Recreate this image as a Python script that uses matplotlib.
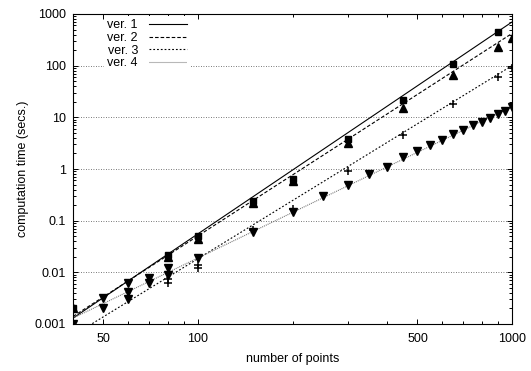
import numpy as np
import matplotlib
matplotlib.use("Agg")
import matplotlib.pyplot as plt
from matplotlib.ticker import LogLocator, FixedLocator, FuncFormatter, NullFormatter

plt.rcParams['font.family'] = ['Liberation Sans', 'DejaVu Sans']

# measured points
v1_x = [40, 80, 100, 150, 200, 300, 450, 650, 900]
v1_y = [0.002, 0.022, 0.05, 0.24, 0.65, 3.8, 22, 110, 450]

v2_x = [40, 80, 100, 150, 200, 300, 450, 650, 900, 1000]
v2_y = [0.002, 0.02, 0.045, 0.22, 0.58, 3.2, 15, 65, 230, 350]

v3_x = [80, 80, 100, 100, 150, 200, 300, 450, 650, 900, 1000]
v3_y = [0.0075, 0.0062, 0.014, 0.012, 0.065, 0.17, 0.9, 4.5, 18, 60, 90]

v4_x = [40, 50, 50, 60, 60, 60, 70, 70, 80, 80, 100, 150, 200, 250, 300, 350,
        400, 450, 500, 550, 600, 650, 700, 750, 800, 850, 900, 950, 1000]
v4_y = [0.001, 0.0032, 0.002, 0.0062, 0.0042, 0.0031, 0.0079, 0.0063, 0.012, 0.009,
        0.019, 0.06, 0.15, 0.3, 0.5, 0.8, 1.1, 1.7, 2.2, 2.9, 3.6, 4.7, 5.8, 7,
        8.3, 9.8, 11.5, 13.5, 15.5]

# fitted power-law lines (end points)
fit_x = [40, 1000]
fit1_y = [0.0013, 700]
fit2_y = [0.0014, 420]
fit3_y = [0.0006, 100]
fit4_y = [0.0013, 16]

labels = ["ver. 1", "ver. 2", "ver. 3", "ver. 4"]
x_ticks = [50, 100, 500, 1000]
y_ticks = [0.001, 0.01, 0.1, 1, 10, 100, 1000]

fs = 9

fig = plt.figure(figsize=(5.31, 3.71), dpi=100)
ax = fig.add_axes([73 / 531, 1 - 324 / 371, 439 / 531, 310 / 371])

ax.set_xscale('log')
ax.set_yscale('log')

l1, = ax.plot(fit_x, fit1_y, color='black', lw=0.8, linestyle='-')
l2, = ax.plot(fit_x, fit2_y, color='black', lw=0.8, linestyle=(0, (3.2, 1.8)))
l3, = ax.plot(fit_x, fit3_y, color='black', lw=0.8, linestyle=(0, (1.6, 1.8)))
l4, = ax.plot(fit_x, fit4_y, color='0.45', lw=0.8, linestyle=(0, (0.9, 0.9)))

ax.plot(v1_x, v1_y, 's', color='black', ms=4.6, lw=0)
ax.plot(v2_x, v2_y, '^', color='black', ms=5.5, lw=0)
ax.plot(v3_x, v3_y, '+', color='black', ms=6, mew=1.1, lw=0)
ax.plot(v4_x, v4_y, 'v', color='black', ms=5.5, lw=0)

ax.set_xlim(40, 1000)
ax.set_ylim(0.001, 1000)

ax.xaxis.set_major_locator(FixedLocator(x_ticks))
ax.xaxis.set_major_formatter(FuncFormatter(lambda v, p: '%g' % v))
ax.xaxis.set_minor_locator(LogLocator(base=10, subs=np.arange(2, 10)))
ax.xaxis.set_minor_formatter(NullFormatter())

ax.yaxis.set_major_locator(FixedLocator(y_ticks))
ax.yaxis.set_major_formatter(FuncFormatter(lambda v, p: '%g' % v))
ax.yaxis.set_minor_locator(LogLocator(base=10, subs=np.arange(2, 10), numticks=20))
ax.yaxis.set_minor_formatter(NullFormatter())

ax.tick_params(which='both', direction='in', top=True, right=True, labelsize=fs, width=0.7)
ax.tick_params(which='major', length=3.5)
ax.tick_params(which='minor', length=2)
ax.tick_params(axis='x', which='major', pad=6.5)
ax.tick_params(axis='y', which='major', pad=5)

ax.grid(True, which='major', axis='y', color='0.3', lw=0.6, linestyle=(0, (1, 2)))
for s in ax.spines.values():
    s.set_linewidth(0.8)

ax.set_xlabel("number of points", fontsize=fs, labelpad=6)
ax.set_ylabel("computation time (secs.)", fontsize=fs, labelpad=4)

leg = ax.legend([l1, l2, l3, l4], labels, loc='upper left', bbox_to_anchor=(0.07, 0.995),
                fontsize=fs, markerfirst=False, frameon=True, framealpha=1,
                edgecolor='none', facecolor='white', fancybox=False,
                handlelength=3.0, labelspacing=0.05, borderpad=0.3, handletextpad=0.9,
                borderaxespad=0.0)
# keep the key box above the grid but under the frame and ticks
leg.set_zorder(2.4)

fig.savefig("out.png", dpi=100)
